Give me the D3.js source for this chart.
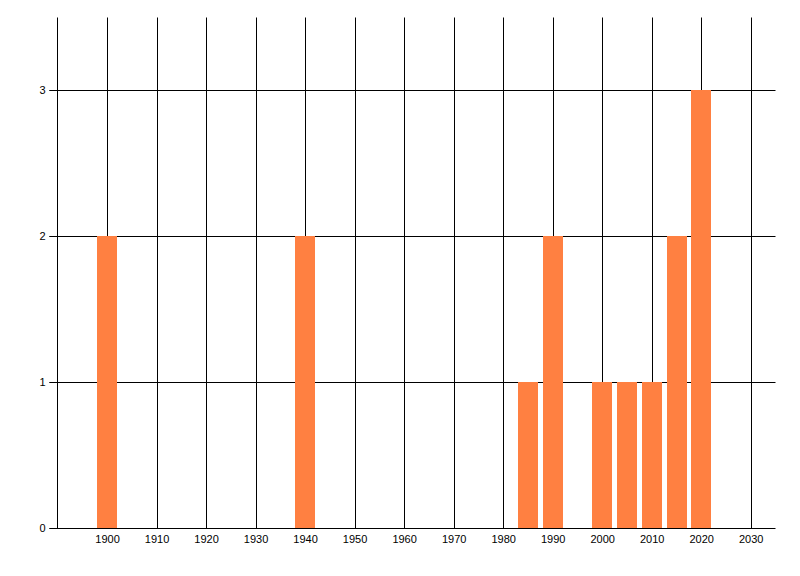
<!DOCTYPE html>
<html>
<head>
<meta charset="utf-8">
<script src="https://cdn.jsdelivr.net/npm/d3@7"></script>
<style>
  body { margin: 0; background: #fff; }
  text { font-family: "Liberation Sans", Arial, sans-serif; font-size: 11px; fill: #000; }
</style>
</head>
<body>
<script>
// values
const years = [1900, 1940, 1985, 1990, 2000, 2005, 2010, 2015, 2020]
const counts = [2, 2, 1, 2, 1, 1, 1, 2, 3]
const xTicks = [1900, 1910, 1920, 1930, 1940, 1950, 1960, 1970, 1980, 1990, 2000, 2010, 2020, 2030]
const yTicks = [0, 1, 2, 3]

const w = 800
const h = 576
const plotLeft = 57.5
const plotRight = 775.5
const plotTop = 17.5
const plotBottom = 528

const svg = d3.select('body').append('svg')
    .attr('width', w)
    .attr('height', h)

const x = d3.scaleLinear().domain([1890, 2035]).range([plotLeft, plotRight])
const y = d3.scaleLinear().domain([0, 3.5]).range([plotBottom, plotTop])

// vertical grid at each decade
svg.append('g')
    .selectAll('line')
    .data(xTicks)
    .enter()
    .append('line')
    .attr('x1', d => Math.round(x(d)) + 0.5)
    .attr('x2', d => Math.round(x(d)) + 0.5)
    .attr('y1', plotTop)
    .attr('y2', plotBottom)
    .attr('stroke', '#000')

// horizontal grid with tick stubs on the left
svg.append('g')
    .selectAll('line')
    .data(yTicks.filter(d => d > 0))
    .enter()
    .append('line')
    .attr('x1', plotLeft - 8)
    .attr('x2', plotRight)
    .attr('y1', d => Math.round(y(d)) + 0.5)
    .attr('y2', d => Math.round(y(d)) + 0.5)
    .attr('stroke', '#000')

const barW = x(1894) - x(1890)

svg.append('g')
    .selectAll('rect')
    .data(years.map((yr, i) => ({ yr, n: counts[i] })))
    .enter()
    .append('rect')
    .attr('x', d => Math.round(x(d.yr) - barW / 2))
    .attr('width', Math.round(barW))
    .attr('y', d => Math.round(y(d.n)))
    .attr('height', d => plotBottom - Math.round(y(d.n)))
    .attr('fill', '#FF8041')

// axes
const xAxis = d3.axisBottom(x).tickValues(xTicks).tickSize(0).tickPadding(7).tickFormat(d3.format('d'))
const gx = svg.append('g')
    .attr('transform', `translate(0, ${plotBottom + 0.5})`)
    .call(xAxis)
gx.select('.domain').attr('d', `M${plotLeft - 8},0H${plotRight}`).attr('stroke', '#000')

const yAxis = d3.axisLeft(y).tickValues(yTicks).tickSize(8).tickPadding(4).tickFormat(d3.format('d'))
const gy = svg.append('g')
    .attr('transform', `translate(${plotLeft}, 0)`)
    .call(yAxis)
gy.select('.domain').attr('d', `M0,${plotTop}V${plotBottom}`).attr('stroke', '#000')
gy.selectAll('.tick line').attr('stroke', '#000')
gy.selectAll('.tick').attr('transform', d => `translate(0, ${Math.round(y(d)) + 0.5})`)

svg.selectAll('g[font-family]').attr('font-family', null).attr('font-size', null)
</script>
</body>
</html>
